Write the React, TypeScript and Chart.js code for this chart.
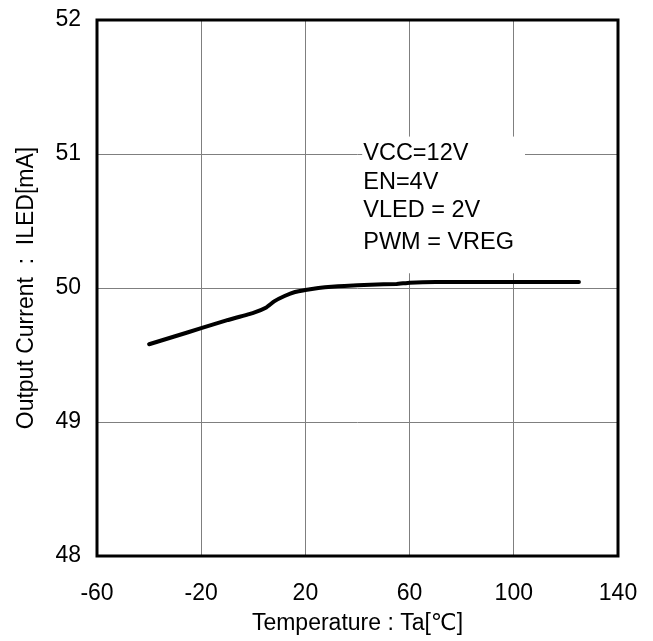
import { useEffect, useRef } from "react";
import { Chart, registerables } from "chart.js";

Chart.register(...registerables);

// Output current vs. ambient temperature
const temperatures = [-40, -30, -20, -10, 0, 5, 8, 12, 16, 20, 25, 30, 35, 45, 55, 60, 70, 80, 100, 125];
const currents = [49.58, 49.64, 49.7, 49.76, 49.815, 49.855, 49.9, 49.94, 49.97, 49.985, 50.0, 50.01, 50.015, 50.025, 50.03, 50.04, 50.045, 50.045, 50.045, 50.045];

const xRange = [-60, 140];
const yRange = [48, 52];
const xStep = 40;
const yStep = 1;

const xTitle = "Temperature : Ta[℃]";
const yTitle = "Output Current  :  ILED[mA]";
const conditions = ["VCC=12V", "EN=4V", "VLED = 2V", "PWM = VREG"];

const FONT = "'Liberation Sans', Arial, 'DejaVu Sans', sans-serif";

const W = 653;
const H = 641;

export default function App() {
  const canvasRef = useRef<HTMLCanvasElement | null>(null);

  useEffect(() => {
    document.body.style.margin = "0";
    const canvas = canvasRef.current;
    if (!canvas) return;

    const framePlugin = {
      id: "frameAndNotes",
      beforeDatasetsDraw(chart: any) {
        const { ctx, scales } = chart;
        const x = scales.x;
        const y = scales.y;
        // white box holding the test conditions
        const bx0 = x.getPixelForValue(41.8);
        const bx1 = x.getPixelForValue(104.3);
        const by0 = y.getPixelForValue(51.13);
        const by1 = y.getPixelForValue(50.11);
        ctx.save();
        ctx.fillStyle = "#ffffff";
        ctx.fillRect(bx0, by0, bx1 - bx0, by1 - by0);
        ctx.fillStyle = "#000000";
        ctx.font = `23.5px ${FONT}`;
        ctx.textBaseline = "middle";
        ctx.textAlign = "left";
        const rows = [51.0, 50.79, 50.58, 50.34];
        conditions.forEach((t, i) => {
          ctx.fillText(t, x.getPixelForValue(42.2), y.getPixelForValue(rows[i]));
        });
        ctx.restore();
      },
      afterDraw(chart: any) {
        const { ctx, chartArea } = chart;
        ctx.save();
        ctx.strokeStyle = "#000000";
        ctx.lineWidth = 3;
        ctx.strokeRect(chartArea.left, chartArea.top, chartArea.right - chartArea.left, chartArea.bottom - chartArea.top);
        ctx.restore();
      },
    };

    const chart = new Chart(canvas, {
      type: "line",
      data: {
        datasets: [
          {
            data: temperatures.map((t, i) => ({ x: t, y: currents[i] })),
            borderColor: "#000000",
            borderWidth: 4,
            pointRadius: 0,
            tension: 0.1,
            borderCapStyle: "round",
            borderJoinStyle: "round",
          },
        ],
      },
      options: {
        responsive: false,
        animation: false,
        events: [],
        layout: { padding: { left: 0, top: 20, right: 35, bottom: 0 } },
        plugins: { legend: { display: false }, tooltip: { enabled: false } },
        scales: {
          x: {
            type: "linear",
            min: xRange[0],
            max: xRange[1],
            afterFit: (s: any) => {
              s.height = 85;
              s.paddingLeft = 0;
              s.paddingRight = 0;
            },
            ticks: {
              stepSize: xStep,
              color: "#000000",
              font: { family: FONT, size: 23 },
              padding: 24,
              maxRotation: 0,
            },
            grid: { color: "#7f7f7f", lineWidth: 1, drawTicks: false },
            border: { display: false },
            title: {
              display: true,
              text: xTitle,
              color: "#000000",
              font: { family: FONT, size: 23 },
              padding: { top: 0, bottom: 4 },
            },
          },
          y: {
            type: "linear",
            min: yRange[0],
            max: yRange[1],
            afterFit: (s: any) => {
              s.width = 97;
              s.paddingTop = 0;
              s.paddingBottom = 0;
            },
            ticks: {
              stepSize: yStep,
              color: "#000000",
              font: { family: FONT, size: 23 },
              padding: 16,
            },
            grid: { color: "#7f7f7f", lineWidth: 1, drawTicks: false },
            border: { display: false },
            title: {
              display: true,
              text: yTitle,
              color: "#000000",
              font: { family: FONT, size: 23 },
              padding: { top: 13, bottom: 0 },
            },
          },
        },
      },
      plugins: [framePlugin],
    });

    return () => chart.destroy();
  }, []);

  return (
    <div style={{ width: W, height: H, background: "#ffffff" }}>
      <canvas ref={canvasRef} width={W} height={H} />
    </div>
  );
}
